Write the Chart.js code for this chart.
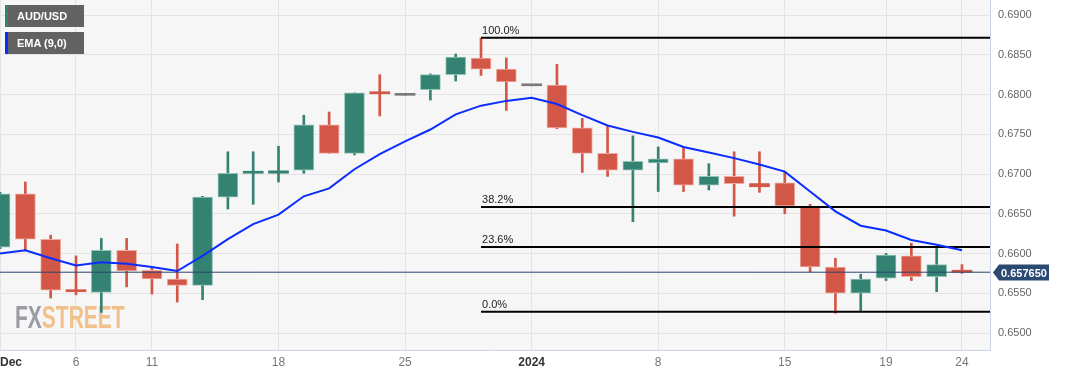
<!DOCTYPE html>
<html><head><meta charset="utf-8">
<script src="https://cdn.jsdelivr.net/npm/chart.js@4.4.1/dist/chart.umd.min.js"></script>
<style>
html,body{margin:0;padding:0;background:#fff;}
#wrap{position:relative;width:1067px;height:376px;overflow:hidden;}
canvas{display:block;}
.leg{position:absolute;left:5px;width:79px;height:22px;background:rgba(90,90,90,0.95);color:#fff;font:bold 11px 'Liberation Sans',Arial,sans-serif;line-height:22px;box-sizing:border-box;padding-left:9px;border-left:3px solid;}
</style></head><body>
<div id="wrap"><canvas id="c" width="1067" height="376"></canvas>
<div class="leg" style="top:5px;border-left-color:#348272">AUD/USD</div>
<div class="leg" style="top:32px;border-left-color:#0b2cff">EMA (9,0)</div>
</div>
<script>
// ---- data (daily AUD/USD, trading days) ----
const dates = ['2023-12-01','2023-12-04','2023-12-05','2023-12-06','2023-12-07','2023-12-08','2023-12-11','2023-12-12','2023-12-13','2023-12-14','2023-12-15','2023-12-18','2023-12-19','2023-12-20','2023-12-21','2023-12-22','2023-12-25','2023-12-26','2023-12-27','2023-12-28','2023-12-29','2024-01-01','2024-01-02','2024-01-03','2024-01-04','2024-01-05','2024-01-08','2024-01-09','2024-01-10','2024-01-11','2024-01-12','2024-01-15','2024-01-16','2024-01-17','2024-01-18','2024-01-19','2024-01-22','2024-01-23','2024-01-24'];
const open  = [0.6608,0.6675,0.6618,0.6554,0.6551,0.6604,0.6579,0.6568,0.6560,0.6671,0.6701,0.6701,0.6705,0.6762,0.6726,0.6802,0.6799,0.6806,0.6825,0.6846,0.6832,0.6811,0.6812,0.6758,0.6726,0.6705,0.6714,0.6719,0.6686,0.6697,0.6688,0.6689,0.6658,0.6583,0.6550,0.6569,0.6597,0.6571,0.6578];
const high  = [0.6677,0.6690,0.6623,0.6597,0.6619,0.6619,0.6583,0.6612,0.6672,0.6728,0.6728,0.6735,0.6774,0.6778,0.6802,0.6825,0.6799,0.6826,0.6851,0.6871,0.6846,0.6811,0.6838,0.6770,0.6760,0.6748,0.6734,0.6733,0.6713,0.6728,0.6728,0.6703,0.6662,0.6594,0.6574,0.6600,0.6613,0.6609,0.6586];
const low   = [0.6606,0.6604,0.6544,0.6548,0.6526,0.6558,0.6549,0.6539,0.6542,0.6656,0.6662,0.6690,0.6701,0.6726,0.6724,0.6773,0.6799,0.6793,0.6817,0.6824,0.6780,0.6811,0.6757,0.6702,0.6697,0.6640,0.6678,0.6678,0.6680,0.6647,0.6677,0.6650,0.6577,0.6525,0.6527,0.6566,0.6566,0.6552,0.6575];
const close = [0.6675,0.6618,0.6554,0.6552,0.6604,0.6578,0.6568,0.6560,0.6671,0.6701,0.6702,0.6704,0.6762,0.6726,0.6802,0.6801,0.6799,0.6825,0.6847,0.6832,0.6816,0.6811,0.6758,0.6726,0.6705,0.6716,0.6719,0.6686,0.6697,0.6688,0.6684,0.6660,0.6583,0.6550,0.6568,0.6598,0.6571,0.6586,0.65765];
const ema9  = [0.6600,0.6604,0.6594,0.6585,0.6589,0.6587,0.6583,0.6578,0.6597,0.6618,0.6637,0.6649,0.6672,0.6682,0.6706,0.6725,0.6741,0.6756,0.6775,0.6786,0.6792,0.6796,0.6788,0.6774,0.6761,0.6753,0.6746,0.6734,0.6727,0.6720,0.6712,0.6703,0.6678,0.6653,0.6635,0.6629,0.6617,0.6611,0.6604];
const tickPositions = [0,3,6,11,16,21,26,31,35,38];
const tickLabels = ['Dec','6','11','18','25','2024','8','15','19','24'];
const boldLabels = ['Dec','2024'];
const yTicks = [0.65,0.655,0.66,0.665,0.67,0.675,0.68,0.685,0.69];
const lastPrice = 0.65765;
const fibHigh = 0.68714, fibLow = 0.65268, fibStartIdx = 19;
const fibRatios = [1.0, 0.382, 0.236, 0.0];

// ---- styling ----
const UP='#348272', DOWN='#d25746', FLAT='#7a7a7a';
const UP_B='#93c2b6', DOWN_B='#eeaba0';
const xMin=-0.002, xMax=39.107, yMin=0.647865, yMax=0.69189;
const colorFor=i=> close[i]>open[i]?UP:(close[i]<open[i]?DOWN:FLAT);
const borderFor=i=> close[i]>open[i]?UP_B:(close[i]<open[i]?DOWN_B:FLAT);
const FONT="'Liberation Sans', Arial, sans-serif";

const fibLevels = fibRatios.map(r=>fibLow+(fibHigh-fibLow)*r);

const datasets = [
  {type:'line', label:'EMA', data: ema9.map((v,i)=>({x:i,y:v})), borderColor:'#0b2cff', borderWidth:2, pointRadius:0, tension:0, order:0},
  ...fibLevels.map((lv,k)=>({type:'line', label:'fib'+k, fib:(fibRatios[k]*100).toFixed(1)+'%', data:[{x:fibStartIdx,y:lv},{x:xMax,y:lv}], borderColor:'#000', borderWidth:2, pointRadius:0, order:1})),
  {type:'line', label:'price', data:[{x:xMin,y:lastPrice},{x:xMax,y:lastPrice}], borderColor:'#2b4470', borderWidth:1, pointRadius:0, order:2},
  {type:'bar', label:'body', data: dates.map((d,i)=>({x:i,y:[open[i],close[i]]})),
    backgroundColor: c=>colorFor(c.dataIndex), borderColor: c=>borderFor(c.dataIndex),
    borderWidth: c=> Math.abs(open[c.dataIndex]-close[c.dataIndex])>0.0004?1:0,
    borderSkipped:false, barThickness:20, minBarLength:2, grouped:false, order:3},
  {type:'bar', label:'wick', data: dates.map((d,i)=>({x:i,y:[low[i],high[i]]})),
    backgroundColor: c=>colorFor(c.dataIndex), borderWidth:0, barThickness:2, minBarLength:1, grouped:false, order:4}
];

const zeroPad = s=>{s.paddingTop=0;s.paddingBottom=0;s.paddingLeft=0;s.paddingRight=0;};

const bgPlugin = {
  id:'bg',
  beforeDraw(chart){
    const {ctx, chartArea:a} = chart;
    ctx.save(); ctx.fillStyle='#fff'; ctx.fillRect(0,0,chart.width,chart.height);
    ctx.fillStyle='#f6f6f6'; ctx.fillRect(a.left,a.top,a.right-a.left,a.bottom-a.top); ctx.restore();
  },
  beforeDatasetsDraw(chart){
    const ctx=chart.ctx; ctx.save();
    ctx.translate(15,328); ctx.scale(0.7,1.03);
    ctx.font='bold 30px '+FONT; ctx.textBaseline='alphabetic';
    ctx.fillStyle='#9b9ca3'; ctx.fillText('FX',0,0);
    const w=ctx.measureText('FX').width;
    ctx.fillStyle='#f2c08b'; ctx.fillText('STREET',w,0);
    ctx.restore();
  },
  afterDatasetsDraw(chart){
    const ctx=chart.ctx; ctx.save();
    ctx.font='11px '+FONT; ctx.fillStyle='#222'; ctx.textBaseline='alphabetic';
    chart.data.datasets.forEach((ds,di)=>{
      if(!ds.fib) return;
      const p=chart.getDatasetMeta(di).data[0];
      ctx.fillText(ds.fib, p.x+1, p.y-4);
    });
    ctx.restore();
  },
  afterDraw(chart){
    const ctx=chart.ctx, xs=chart.scales.x, ys=chart.scales.y;
    ctx.save();
    ctx.textBaseline='middle';
    tickPositions.forEach((v,k)=>{
      const lab=tickLabels[k], b=boldLabels.includes(lab);
      ctx.font=(b?'bold ':'')+'12px '+FONT;
      ctx.fillStyle=b?'#333':'#777';
      const x=xs.getPixelForValue(v);
      ctx.textAlign = k===0?'left':'center';
      ctx.fillText(lab, k===0?0:x, 363);
    });
    // last price tag
    const y=Math.round(ys.getPixelForValue(lastPrice))+0.5, x0=chart.chartArea.right+3;
    ctx.fillStyle='#2b4a72';
    ctx.beginPath(); ctx.moveTo(x0,y); ctx.lineTo(x0+6,y-8); ctx.lineTo(x0+56,y-8); ctx.lineTo(x0+56,y+8); ctx.lineTo(x0+6,y+8); ctx.closePath(); ctx.fill();
    ctx.fillStyle='#fff'; ctx.font='bold 11px '+FONT; ctx.textAlign='left';
    ctx.fillText(lastPrice.toFixed(6), x0+8, y+1);
    ctx.restore();
  }
};

new Chart(document.getElementById('c'), {
  type:'bar',
  data:{datasets},
  options:{
    responsive:false, animation:false, devicePixelRatio:1,
    layout:{padding:0},
    plugins:{legend:{display:false}, tooltip:{enabled:false}},
    scales:{
      x:{type:'linear', min:xMin, max:xMax, offset:false,
        grid:{color:'#e4e4e4', drawTicks:false, offset:false},
        border:{color:'#cbd3e6'},
        ticks:{display:false},
        afterBuildTicks:s=>{s.ticks=tickPositions.map(v=>({value:v}));},
        afterFit:s=>{s.height=26; zeroPad(s);}
      },
      y:{type:'linear', position:'right', min:yMin, max:yMax,
        grid:{color:'#e4e4e4', drawTicks:false},
        border:{color:'#cbd3e6'},
        ticks:{padding:8, color:'#666', font:{size:11, family:FONT}, callback:v=>Number(v).toFixed(4)},
        afterBuildTicks:s=>{s.ticks=yTicks.map(v=>({value:v}));},
        afterFit:s=>{s.width=77; zeroPad(s);}
      }
    }
  },
  plugins:[bgPlugin]
});
</script>
</body></html>
